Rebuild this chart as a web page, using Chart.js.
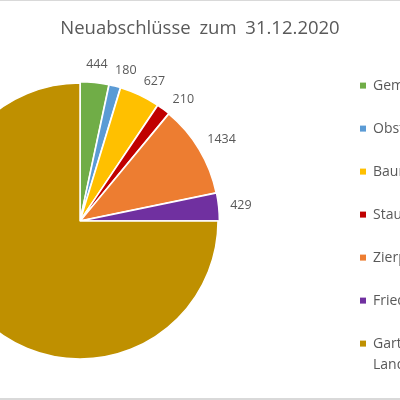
<!DOCTYPE html>
<html>
<head>
<meta charset="utf-8">
<script src="https://cdn.jsdelivr.net/npm/chart.js@4.4.1/dist/chart.umd.min.js"></script>
<style>
  html, body { margin: 0; padding: 0; background: #fff; }
  body { width: 400px; height: 400px; overflow: hidden; position: relative; font-family: "Open Sans", sans-serif; }
  #frame { position: absolute; left: 0; top: 0; width: 400px; height: 400px; box-sizing: border-box;
           border-top: 1px solid #d9d9d9; border-bottom: 2px solid #d9d9d9; pointer-events: none; }
  #title { position: absolute; left: 0; top: 14px; width: 400px; text-align: center;
           font-size: 18.5px; color: #595959; line-height: 26px; word-spacing: 4px; }
  #wrap { position: absolute; left: -173px; top: 0; width: 654px; height: 420px; }
</style>
</head>
<body>
<div id="wrap"><canvas id="pieChart"></canvas></div>
<div id="title">Neuabschlüsse zum 31.12.2020</div>
<div id="frame"></div>
<script>
// Neuabschlüsse je Sparte
const categories = [
  "Gemüsebau", "Obstbau", "Baumschule", "Staudengärtnerei",
  "Zierpflanzenbau", "Friedhofsgärtnerei", ["Garten- und", "Landschaftsbau"]
];
const values = [444, 180, 627, 210, 1434, 429, 9975];
const sliceColors = ["#70ad47", "#5b9bd5", "#ffc000", "#c00000", "#ed7d31", "#7030a0", "#bf9000"];

// Werte außen an die Segmente schreiben (einfaches Ausweichen bei Überlappung)
const valueLabels = {
  id: "valueLabels",
  afterDatasetsDraw(chart) {
    const ctx = chart.ctx;
    const arcs = chart.getDatasetMeta(0).data;
    ctx.save();
    ctx.font = '12.5px "Open Sans"';
    ctx.fillStyle = "#595959";
    ctx.textAlign = "center";
    ctx.textBaseline = "middle";
    const h = 13, gap = 10, pad = 7;
    let prev = null;
    arcs.forEach((arc, i) => {
      const p = arc.getProps(["x", "y", "startAngle", "endAngle", "outerRadius"], true);
      const text = String(values[i]);
      const w = ctx.measureText(text).width;
      const r = p.outerRadius + (arc.options.offset || 0) + gap;
      let a = (p.startAngle + p.endAngle) / 2;
      let box;
      for (let k = 0; k < 60; k++) {
        const cx = p.x + Math.cos(a) * r + Math.cos(a) * w / 2;
        const cy = p.y + Math.sin(a) * r + Math.sin(a) * h / 2;
        box = { cx, cy, l: cx - w / 2, r: cx + w / 2, t: cy - h / 2, b: cy + h / 2 };
        const hit = prev && box.l < prev.r + pad && box.r > prev.l - pad &&
                    box.t < prev.b + pad && box.b > prev.t - pad;
        if (!hit) break;
        a += Math.PI / 360;
      }
      ctx.fillText(text, box.cx, box.cy);
      prev = box;
    });
    ctx.restore();
  }
};

new Chart(document.getElementById("pieChart"), {
  type: "pie",
  data: {
    labels: categories,
    datasets: [{
      data: values,
      backgroundColor: sliceColors,
      borderColor: "#ffffff",
      borderWidth: 1.5,
      offset: (c) => (c.dataIndex < values.length - 1 ? 3 : 0)
    }]
  },
  options: {
    responsive: true,
    maintainAspectRatio: false,
    animation: false,
    radius: 138,
    layout: { padding: { top: 33, bottom: 11, left: 2, right: 0 } },
    plugins: {
      tooltip: { enabled: false },
      legend: {
        position: "right",
        align: "end",
        maxWidth: 150,
        labels: {
          boxWidth: 6,
          boxHeight: 6,
          padding: 29,
          color: "#595959",
          font: { family: "Open Sans", size: 14, lineHeight: 1.55 },
          generateLabels(chart) {
            return Chart.overrides.doughnut.plugins.legend.labels.generateLabels(chart)
              .map(item => ({ ...item, lineWidth: 0 }));
          }
        }
      }
    }
  },
  plugins: [valueLabels]
});
</script>
</body>
</html>
